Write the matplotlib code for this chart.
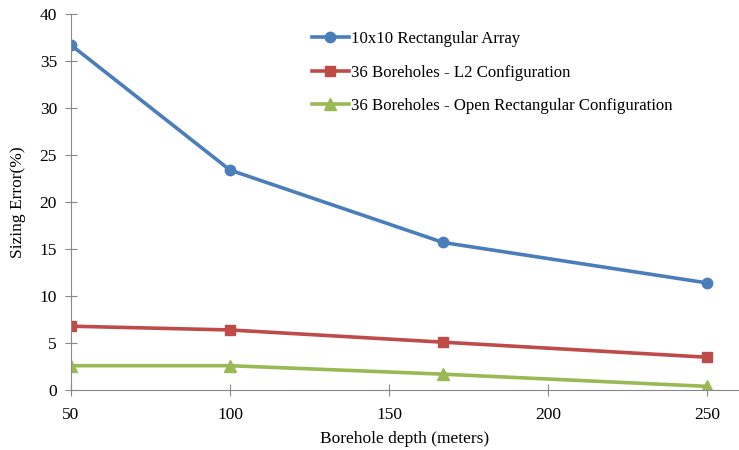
import matplotlib
matplotlib.use("Agg")
import matplotlib.pyplot as plt

plt.rcParams["font.family"] = ["Liberation Serif", "DejaVu Serif"]

depth = [50, 100, 167, 250]
rect_array = [36.7, 23.4, 15.7, 11.4]
l2_config = [6.8, 6.4, 5.1, 3.5]
open_rect = [2.6, 2.6, 1.7, 0.4]

fig = plt.figure(figsize=(7.39, 4.5), dpi=100)
ax = fig.add_axes([0.096, 0.133, 0.904, 0.836])

ax.plot(depth, rect_array, color="#4a7ebb", lw=2.6, marker="o", ms=7.5, label="10x10 Rectangular Array")
ax.plot(depth, l2_config, color="#be4b48", lw=2.6, marker="s", ms=6.5, label="36 Boreholes - L2 Configuration")
ax.plot(depth, open_rect, color="#98b954", lw=2.6, marker="^", ms=8.5, label="36 Boreholes - Open Rectangular Configuration")

ax.set_xlim(50, 260)
ax.set_ylim(0, 40)
ax.set_xticks([50, 100, 150, 200, 250])
ax.set_yticks(range(0, 41, 5))
for s in ["top", "right"]:
    ax.spines[s].set_visible(False)
for s in ["left", "bottom"]:
    ax.spines[s].set_color("#888888")
ax.tick_params(direction="inout", length=8, color="#888888", labelsize=12.5)
ax.tick_params(axis="x", pad=8)
ax.tick_params(axis="y", pad=6)

ax.set_xlabel("Borehole depth (meters)", fontsize=12.5, labelpad=6)
ax.set_ylabel("Sizing Error(%)", fontsize=12.5, labelpad=10)

ax.legend(loc="upper left", bbox_to_anchor=(0.338, 0.995), frameon=False, fontsize=12.1,
          handlelength=2.2, labelspacing=1.05, handletextpad=0.15)

fig.savefig("out.png", dpi=100)
